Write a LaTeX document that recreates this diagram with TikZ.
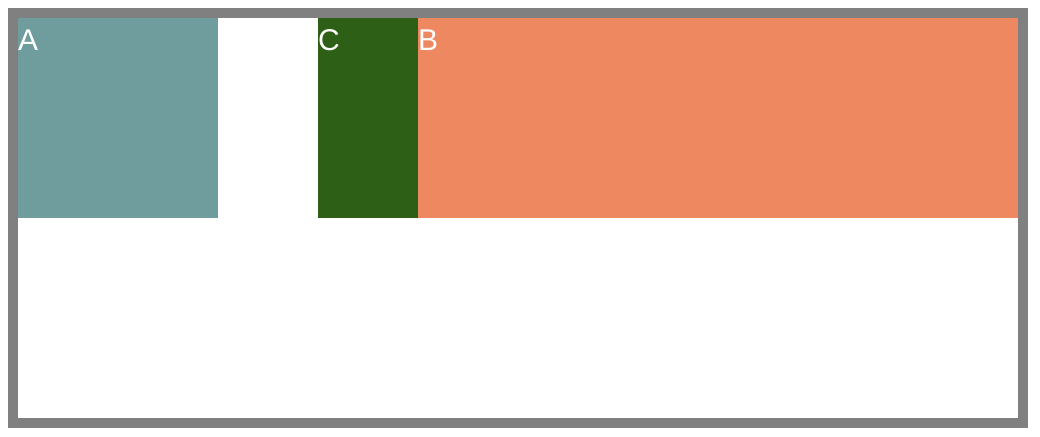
\documentclass[tikz,border=0pt]{standalone}
\usepackage{fontspec}
\setmainfont{Liberation Sans}
\usetikzlibrary{positioning}
\definecolor{tileTeal}{HTML}{6F9C9D}
\definecolor{tileGreen}{HTML}{2D6016}
\definecolor{tileCoral}{HTML}{EE8860}
\definecolor{frameGray}{HTML}{808080}
\tikzset{
  tilelabel/.style={anchor=base west, inner sep=0pt, text=white,
    font=\fontsize{30}{34}\selectfont},
}

\begin{document}
\begin{tikzpicture}[x=1pt, y=-1pt]
        \useasboundingbox (0,0) rectangle (1040,436);
        \fill[white] (0,0) rectangle (1040,436);
        \fill[tileTeal] (18,18) rectangle (218,218);
        \fill[tileGreen] (318,18) rectangle (418,218);
        \fill[tileCoral] (418,18) rectangle (1018,218);
        \draw[frameGray, line width=10pt] (13,13) rectangle (1023,423);
        \node[tilelabel] (labelA) at (18,51) {A};
        \node[tilelabel] (labelC) at (318,51) {C};
        \node[tilelabel] (labelB) at (418,51) {B};
      \end{tikzpicture}
\end{document}
